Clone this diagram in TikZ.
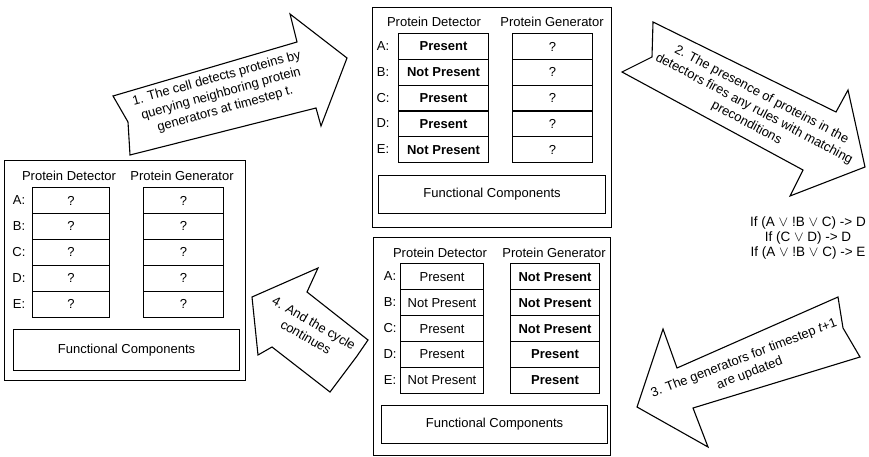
\documentclass[tikz,border=0pt]{standalone}
\usepackage{fontspec}
\setmainfont{Liberation Sans}
\begin{document}
\begin{tikzpicture}[x=1pt,y=-1pt,
  outerbox/.style={draw, line width=1.1pt, inner sep=0pt, anchor=north west},
  cell/.style={draw, line width=1.1pt, minimum height=25.9pt, inner sep=0pt, anchor=north west, font=\fontsize{13}{15}\selectfont},
  lbl/.style={font=\fontsize{13}{15}\selectfont, inner sep=0pt},
  hdr/.style={font=\fontsize{13}{15}\selectfont, inner sep=0pt},
  fcbox/.style={draw, line width=1.1pt, inner sep=0pt, anchor=north west, font=\fontsize{13}{15}\selectfont},
  bigarrow/.style={draw, line width=1.1pt, line join=miter, fill=white},
  atext/.style={align=center, font=\fontsize{13}{16}\selectfont, inner sep=0pt},
  rules/.style={align=center, font=\fontsize{13.5}{15}\selectfont, inner sep=0pt}]
\useasboundingbox (0,0) rectangle (869,457);
\fill[white] (0,0) rectangle (869,457);

% ---------- arrows ----------
\draw[bigarrow] (113,96) -- (297,42) -- (290,14) -- (347,58) -- (321,126) -- (316,108) -- (130,155) -- (128,122) -- cycle;
\node[atext, rotate=15.5] (t1) at (221,94) {1. The cell detects proteins by\\querying neighboring protein\\generators at timestep t.};

\draw[bigarrow] (653,22) -- (836,112) -- (848,90) -- (865,167) -- (790,196) -- (803,170) -- (622,72) -- (652,57) -- cycle;
\node[atext, rotate=-28] (t2) at (754,109) {2. The presence of proteins in the\\detectors fires any rules with matching\\preconditions};

\draw[bigarrow] (838,297) -- (677,368) -- (663,329) -- (637,407) -- (708,447) -- (693,408) -- (860,357) -- (843,328) -- cycle;
\node[atext, rotate=21] (t3) at (747,366) {3. The generators for timestep \textit{t}+1\\are updated};

\draw[bigarrow] (252,297) -- (318,268) -- (307,292) -- (368,340) -- (357,356) -- (330,392) -- (272,347) -- (258,355) -- cycle;
\node[atext, rotate=-30] (t4) at (310,330) {4. And the cycle\\continues};

\node[rules] (rules) at (808,238) {If (A $\vee$ !B $\vee$ C) -> D\\If (C $\vee$ D) -> D\\If (A $\vee$ !B $\vee$ C) -> E};

% ---------- top cell ----------
\node[outerbox, minimum width=239pt, minimum height=220pt] (T) at (372,7) {};
\node[hdr] (T-hd) at (434,22) {Protein Detector};
\node[hdr] (T-hg) at (552,22) {Protein Generator};
\foreach \l/\d/\g [count=\i from 0] in {A/\textbf{Present}/?,B/\textbf{Not Present}/?,C/\textbf{Present}/?,D/\textbf{Present}/?,E/\textbf{Not Present}/?}{
  \node[cell, minimum width=90pt] (T-d\l) at (398,{33+25.8*\i}) {\d};
  \node[cell, minimum width=80pt] (T-g\l) at (512,{33+25.8*\i}) {\g};
  \node[lbl] (T-l\l) at (383,{46+25.8*\i}) {\l:};
}
\node[fcbox, minimum width=227pt, minimum height=38pt] (T-fc) at (378,175) {Functional Components};

% ---------- left cell ----------
\node[outerbox, minimum width=241pt, minimum height=220pt] (L) at (4,160) {};
\node[hdr] (L-hd) at (69,176) {Protein Detector};
\node[hdr] (L-hg) at (182,176) {Protein Generator};
\foreach \l/\d/\g [count=\i from 0] in {A/?/?,B/?/?,C/?/?,D/?/?,E/?/?}{
  \node[cell, minimum width=77pt] (L-d\l) at (32,{187+25.9*\i}) {\d};
  \node[cell, minimum width=80pt] (L-g\l) at (143,{187+25.9*\i}) {\g};
  \node[lbl] (L-l\l) at (19,{200+25.9*\i}) {\l:};
}
\node[fcbox, minimum width=226pt, minimum height=41pt] (L-fc) at (13,329) {Functional Components};

% ---------- bottom cell ----------
\node[outerbox, minimum width=237pt, minimum height=218pt] (B) at (373,237) {};
\node[hdr] (B-hd) at (440,253) {Protein Detector};
\node[hdr] (B-hg) at (554,253) {Protein Generator};
\foreach \l/\d/\g [count=\i from 0] in {A/Present/\textbf{Not Present},B/Not Present/\textbf{Not Present},C/Present/\textbf{Not Present},D/Present/\textbf{Present},E/Not Present/\textbf{Present}}{
  \node[cell, minimum width=83pt] (B-d\l) at (400,{263.3+25.9*\i}) {\d};
  \node[cell, minimum width=89pt] (B-g\l) at (510,{263.3+25.9*\i}) {\g};
  \node[lbl] (B-l\l) at (390,{276.3+25.9*\i}) {\l:};
}
\node[fcbox, minimum width=226pt, minimum height=38pt] (B-fc) at (381,405) {Functional Components};
\end{tikzpicture}
\end{document}
